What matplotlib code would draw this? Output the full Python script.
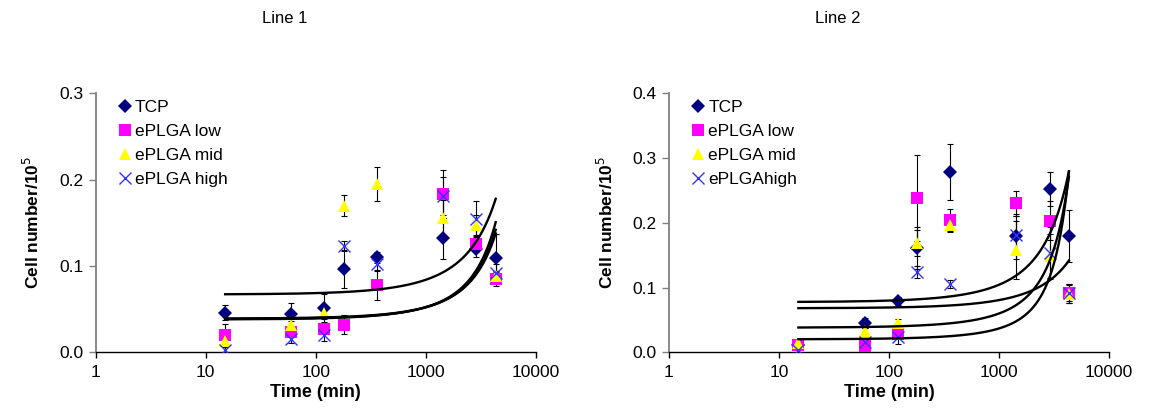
import matplotlib
matplotlib.use("Agg")
import matplotlib.pyplot as plt
import numpy as np

plt.rcParams['font.family'] = ['Liberation Sans', 'DejaVu Sans']

time_min = [15, 60, 120, 180, 360, 1440, 2880, 4320]
series_names = ["TCP", "ePLGA low", "ePLGA mid", "ePLGA high"]

# Line 1 means and error bars
l1_tcp = [0.046, 0.044, 0.051, 0.096, 0.110, 0.132, 0.120, 0.109]
l1_low = [0.020, 0.023, 0.027, 0.032, 0.078, 0.183, 0.126, 0.085]
l1_mid = [0.013, 0.032, 0.045, 0.170, 0.195, 0.156, 0.147, 0.088]
l1_high = [0.003, 0.015, 0.020, 0.123, 0.102, 0.181, 0.154, 0.092]
l1_tcp_err = [0.009, 0.013, 0.016, 0.022, 0.006, 0.024, 0.010, 0.028]
l1_low_err = [0.013, 0.004, 0.005, 0.011, 0.017, 0.028, 0.010, 0.008]
l1_mid_err = [0.004, 0.004, 0.006, 0.012, 0.020, 0.020, 0.012, 0.006]
l1_high_err = [0.003, 0.004, 0.007, 0.006, 0.008, 0.022, 0.021, 0.010]

# Line 2 means and error bars
l2_tcp = [0.012, 0.045, 0.079, 0.161, 0.278, 0.179, 0.252, 0.180]
l2_low = [0.011, 0.009, 0.029, 0.238, 0.204, 0.230, 0.203, 0.091]
l2_mid = [0.014, 0.033, 0.046, 0.169, 0.196, 0.158, 0.148, 0.090]
l2_high = [0.004, 0.016, 0.023, 0.124, 0.105, 0.181, 0.154, 0.092]
l2_tcp_err = [0.004, 0.008, 0.006, 0.032, 0.043, 0.035, 0.026, 0.040]
l2_low_err = [0.004, 0.004, 0.006, 0.066, 0.018, 0.019, 0.030, 0.015]
l2_mid_err = [0.004, 0.005, 0.006, 0.020, 0.008, 0.045, 0.035, 0.014]
l2_high_err = [0.004, 0.005, 0.010, 0.010, 0.006, 0.030, 0.040, 0.013]

# exponential trendlines y = a*exp(b*t)
l1_trend_a = [0.0670, 0.0380, 0.0385, 0.0390]
l1_trend_b = [2.26e-4, 3.19e-4, 3.02e-4, 2.92e-4]
l2_trend_a = [0.0775, 0.0680, 0.0380, 0.0200]
l2_trend_b = [2.97e-4, 1.70e-4, 4.55e-4, 6.10e-4]

styles = [
    dict(marker="D", color="#000080", ms=7),
    dict(marker="s", color="#FF00FF", ms=8),
    dict(marker="^", color="#FFFF00", ms=9),
    dict(marker="x", color="#3333FF", ms=9, mew=1.0),
]

fig = plt.figure(figsize=(11.55, 4.17), dpi=100)


def panel(rect, title, title_x, means, errs, ta, tb, ymax, names):
    ax = fig.add_axes(rect)
    t = np.array(time_min, dtype=float)
    for m, e in zip(means, errs):
        ax.errorbar(t, m, yerr=e, fmt="none", ecolor="black", elinewidth=0.8,
                    capsize=2.5, capthick=0.8, zorder=2)
    for m, st, nm in zip(means, styles, names):
        ax.plot(t, m, linestyle="none", marker=st["marker"], color=st["color"],
                markersize=st["ms"], markeredgewidth=st.get("mew", 0),
                markeredgecolor=st["color"], label=nm, zorder=3)
    tt = np.linspace(time_min[0], time_min[-1], 400)
    for a, b in zip(ta, tb):
        ax.plot(tt, a * np.exp(b * tt), color="black", lw=1.7, zorder=4)
    ax.set_xscale("log")
    ax.set_xlim(1, 10000)
    ax.set_ylim(0, ymax)
    ax.set_xticks([1, 10, 100, 1000, 10000])
    ax.set_xticklabels(["1", "10", "100", "1000", "10000"])
    ax.minorticks_off()
    ax.set_yticks(np.arange(0, ymax + 0.001, 0.1))
    ax.set_yticklabels(["%.1f" % v for v in np.arange(0, ymax + 0.001, 0.1)])
    ax.spines["top"].set_visible(False)
    ax.spines["right"].set_visible(False)
    ax.spines["left"].set_color("#808080")
    ax.spines["left"].set_linewidth(1.3)
    ax.spines["bottom"].set_linewidth(1.0)
    ax.tick_params(axis="y", direction="out", length=5, width=1, color="#808080",
                   labelsize=12.5, pad=4)
    ax.tick_params(axis="x", direction="out", length=4, width=1, labelsize=12.5, pad=5)
    ax.set_xlabel("Time (min)", fontsize=13, fontweight="bold", labelpad=3)
    ax.set_ylabel("Cell number/10$^5$", fontsize=12.5, fontweight="bold", labelpad=12)
    ax.legend(loc="upper left", frameon=False, fontsize=12.5, handletextpad=0.1,
              handlelength=1.0, labelspacing=0.5, borderaxespad=0.0,
              bbox_to_anchor=(0.03, 1.0))
    fig.text(title_x, 0.955, title, ha="center", va="center", fontsize=12,
             family=["Liberation Sans Narrow", "Liberation Sans", "DejaVu Sans"])
    return ax


panel([0.0829, 0.1552, 0.381, 0.621], "Line 1", 285 / 1155,
      [l1_tcp, l1_low, l1_mid, l1_high],
      [l1_tcp_err, l1_low_err, l1_mid_err, l1_high_err],
      l1_trend_a, l1_trend_b, 0.3, series_names)
panel([0.5792, 0.1552, 0.381, 0.621], "Line 2", 838 / 1155,
      [l2_tcp, l2_low, l2_mid, l2_high],
      [l2_tcp_err, l2_low_err, l2_mid_err, l2_high_err],
      l2_trend_a, l2_trend_b, 0.4, ["TCP", "ePLGA low", "ePLGA mid", "ePLGAhigh"])

fig.savefig("out.png", dpi=100)
